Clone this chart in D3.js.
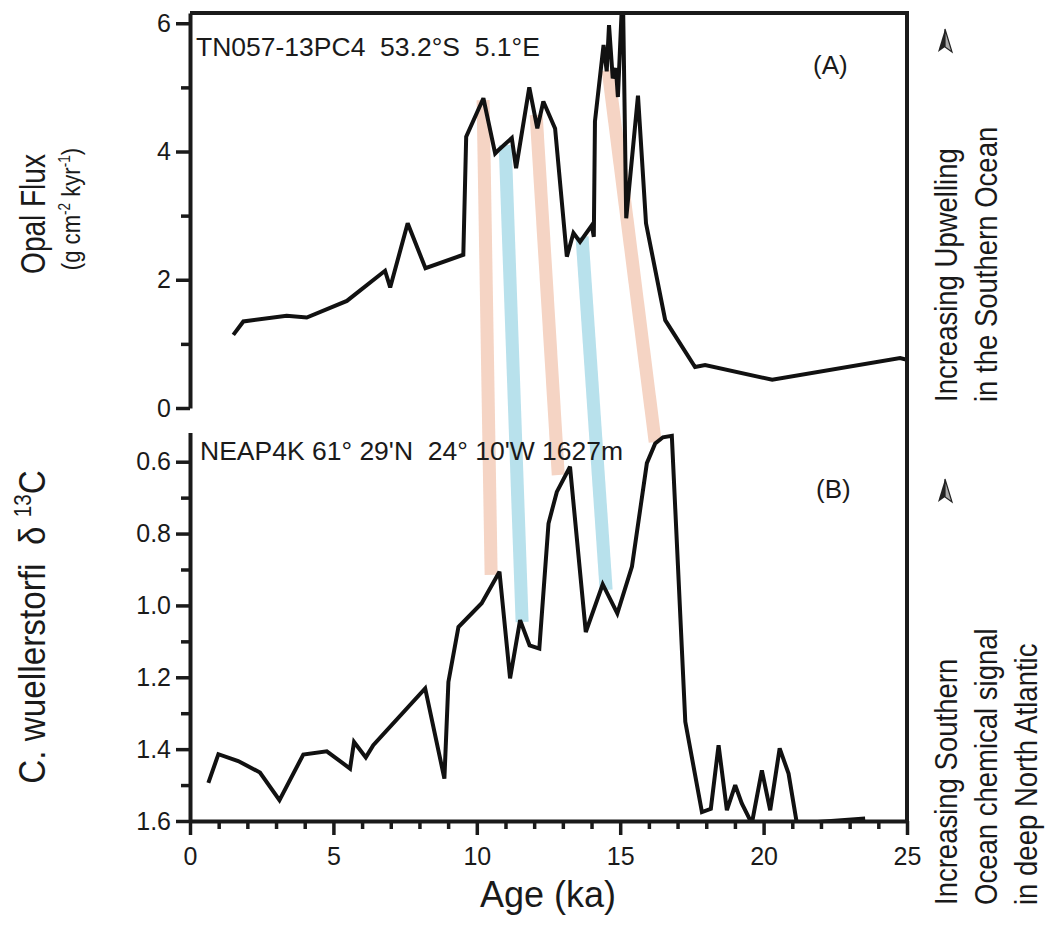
<!DOCTYPE html>
<html><head><meta charset="utf-8">
<script src="https://cdn.jsdelivr.net/npm/d3@7"></script>
<style>
body{margin:0;background:#fff}
text{fill:#1a1a1a}
</style>
</head><body>
<svg id="c" width="1045" height="925"></svg>
<script>
// ---- data ----
const opalAge = [1.51,1.86,3.37,4.07,5.47,6.80,6.98,7.59,8.21,9.53,9.63,10.23,10.64,10.75,11.22,11.37,11.83,12.11,12.32,12.73,13.14,13.37,13.60,14.01,14.08,14.12,14.42,14.53,14.61,14.74,14.85,14.92,15.09,15.21,15.62,15.90,16.57,17.61,17.96,20.30,24.76,25.0];
const opalFlux = [1.14,1.35,1.44,1.41,1.67,2.14,1.88,2.88,2.18,2.39,4.23,4.83,3.97,4.02,4.21,3.74,5.00,4.36,4.78,4.36,2.36,2.73,2.59,2.85,2.67,4.47,5.66,5.25,5.97,5.14,5.30,4.85,6.60,2.96,4.87,2.88,1.37,0.64,0.67,0.44,0.78,0.75];
const d13Age = [0.64,0.99,1.68,2.44,3.12,3.95,4.77,5.58,5.72,6.13,6.39,8.20,8.87,9.01,9.36,10.17,10.79,11.16,11.51,11.84,12.18,12.50,12.79,13.25,13.80,14.39,14.90,15.41,15.93,16.22,16.49,16.80,17.27,17.85,18.16,18.43,18.72,19.01,19.24,19.59,19.94,20.23,20.56,20.87,21.16,23.54];
const d13C = [1.494,1.414,1.433,1.465,1.542,1.415,1.406,1.454,1.38,1.423,1.389,1.231,1.482,1.213,1.06,0.994,0.906,1.203,1.041,1.111,1.12,0.772,0.684,0.614,1.074,0.941,1.022,0.892,0.604,0.549,0.532,0.528,1.324,1.575,1.566,1.389,1.57,1.50,1.551,1.607,1.459,1.57,1.398,1.468,1.607,1.593];
// correlation bands (panel A point -> panel B point)
const bandTopAge = [10.22, 10.99, 12.07, 13.67, 14.58];
const bandTopVal = [4.80, 4.10, 4.57, 2.67, 5.27];
const bandBotAge = [10.50, 11.58, 12.84, 14.51, 16.22];
const bandBotVal = [0.915, 1.046, 0.637, 0.957, 0.545];
const bandKind = ["warm","cool","warm","cool","warm"];
// ticks
const xTicks = [0,5,10,15,20,25];
const xMinorTicks = [1,2,3,4,6,7,8,9,11,12,13,14,16,17,18,19,21,22,23,24];
const opalTicks = [0,2,4,6];
const opalMinorTicks = [1,3,5];
const d13Ticks = [0.6,0.8,1.0,1.2,1.4,1.6];
const d13MinorTicks = [0.7,0.9,1.1,1.3,1.5];

// ---- layout ----
const svg = d3.select("#c");
const L = 190, R = 907;
const x = d3.scaleLinear([0,25],[L,R]);
const yA = d3.scaleLinear([0,6.16],[408,13]);
const yB = d3.scaleLinear([0.519,1.6],[432.6,821]);
const colors = {warm:"#f5d2c1", cool:"#b5e0ec"};
const font = "'Liberation Sans', Arial, Helvetica, sans-serif";

const defs = svg.append("defs");
defs.append("clipPath").attr("id","clipA").append("rect").attr("x",L).attr("y",13).attr("width",R-L).attr("height",408-13);
defs.append("clipPath").attr("id","clipB").append("rect").attr("x",L).attr("y",432.6).attr("width",R-L).attr("height",821-432.6);

// bands
svg.append("g").selectAll("line").data(bandKind).join("line")
  .attr("x1",(d,i)=>x(bandTopAge[i])).attr("y1",(d,i)=>yA(bandTopVal[i]))
  .attr("x2",(d,i)=>x(bandBotAge[i])).attr("y2",(d,i)=>yB(bandBotVal[i]))
  .attr("stroke",d=>colors[d]).attr("stroke-width",13).attr("opacity",0.95);

// lines
const lineA = d3.line().x((d,i)=>x(opalAge[i])).y((d,i)=>yA(opalFlux[i]));
const lineB = d3.line().x((d,i)=>x(d13Age[i])).y((d,i)=>yB(d13C[i]));
svg.append("path").attr("clip-path","url(#clipA)").attr("d",lineA(opalAge))
  .attr("fill","none").attr("stroke","#111").attr("stroke-width",4).attr("stroke-linejoin","miter").attr("stroke-miterlimit",3);
svg.append("path").attr("clip-path","url(#clipB)").attr("d",lineB(d13Age))
  .attr("fill","none").attr("stroke","#111").attr("stroke-width",4).attr("stroke-linejoin","miter").attr("stroke-miterlimit",3);

// frame
svg.append("line").attr("x1",L).attr("x2",R).attr("y1",13).attr("y2",13).attr("stroke","#1a1a1a").attr("stroke-width",4);
svg.append("line").attr("x1",R).attr("x2",R).attr("y1",11).attr("y2",823).attr("stroke","#1a1a1a").attr("stroke-width",4);

function styleAxis(g, fs){
  g.select(".domain").attr("stroke","#1a1a1a").attr("stroke-width",4);
  g.selectAll(".tick line").attr("stroke","#1a1a1a").attr("stroke-width",3.5);
  g.selectAll(".tick text").attr("font-family",font).attr("font-size",fs).attr("fill","#1a1a1a");
}
// axis A
const gA = svg.append("g").attr("transform",`translate(${L},0)`)
  .call(d3.axisLeft(yA).tickValues(opalTicks).tickSize(14).tickSizeOuter(0).tickPadding(5).tickFormat(d3.format("d")));
styleAxis(gA, 25);
const gAm = svg.append("g").attr("transform",`translate(${L},0)`)
  .call(d3.axisLeft(yA).tickValues(opalMinorTicks).tickSize(9).tickSizeOuter(0).tickFormat(""));
styleAxis(gAm, 25); gAm.select(".domain").remove();
// axis B
const gB = svg.append("g").attr("transform",`translate(${L},0)`)
  .call(d3.axisLeft(yB).tickValues(d13Ticks).tickSize(14).tickSizeOuter(0).tickPadding(5).tickFormat(d3.format(".1f")));
styleAxis(gB, 25);
const gBm = svg.append("g").attr("transform",`translate(${L},0)`)
  .call(d3.axisLeft(yB).tickValues(d13MinorTicks).tickSize(9).tickSizeOuter(0).tickFormat(""));
styleAxis(gBm, 25); gBm.select(".domain").remove();
// x axis
const gX = svg.append("g").attr("transform",`translate(0,821)`)
  .call(d3.axisBottom(x).tickValues(xTicks).tickSize(14).tickSizeOuter(0).tickPadding(12).tickFormat(d3.format("d")));
styleAxis(gX, 25);
const gXm = svg.append("g").attr("transform",`translate(0,821)`)
  .call(d3.axisBottom(x).tickValues(xMinorTicks).tickSize(8).tickSizeOuter(0).tickFormat(""));
styleAxis(gXm, 25); gXm.select(".domain").remove();

// panel annotations
svg.append("text").attr("x",196).attr("y",56).attr("font-family",font).attr("font-size",26.5)
  .style("white-space","pre").text("TN057-13PC4  53.2°S  5.1°E");
svg.append("text").attr("x",813).attr("y",74).attr("font-family",font).attr("font-size",26).text("(A)");
svg.append("text").attr("x",200).attr("y",460).attr("font-family",font).attr("font-size",26.5)
  .style("white-space","pre").text("NEAP4K 61° 29'N  24° 10'W 1627m");
svg.append("text").attr("x",816).attr("y",498).attr("font-family",font).attr("font-size",26).text("(B)");

// axis titles (condensed via horizontal scaling along text direction)
svg.append("text").attr("transform","translate(45,214) rotate(-90) scale(0.8,1)").attr("text-anchor","middle")
  .attr("font-family",font).attr("font-size",35).text("Opal Flux");
const t2 = svg.append("text").attr("transform","translate(80,209) rotate(-90) scale(0.85,1)").attr("text-anchor","middle")
  .attr("font-family",font).attr("font-size",26);
t2.append("tspan").text("(g cm");
t2.append("tspan").attr("dy",-10).attr("font-size",16).text("-2");
t2.append("tspan").attr("dy",10).text(" kyr");
t2.append("tspan").attr("dy",-10).attr("font-size",16).text("-1");
t2.append("tspan").attr("dy",10).text(")");
const t3 = svg.append("text").attr("transform","translate(45,627) rotate(-90) scale(0.9,1)").attr("text-anchor","middle")
  .attr("font-family",font).attr("font-size",37).style("white-space","pre");
t3.append("tspan").text("C. wuellerstorfi  δ ");
t3.append("tspan").attr("dy",-14).attr("font-size",23).text("13");
t3.append("tspan").attr("dy",14).text("C");
svg.append("text").attr("x",548).attr("y",907).attr("text-anchor","middle")
  .attr("font-family",font).attr("font-size",36).text("Age (ka)");

// right side annotations
function arrowUp(cx, cy){
  const g = svg.append("g").attr("transform",`translate(${cx},${cy})`);
  g.append("path").attr("d","M0,-13 L-7,10 L0,5 Z").attr("fill","#222");
  g.append("path").attr("d","M0,-13 L7,10 L0,5 Z").attr("fill","#aaa").attr("stroke","#222").attr("stroke-width",1.2);
}
function rightText(bx, by, str){
  svg.append("text").attr("transform",`translate(${bx},${by}) rotate(-90) scale(0.86,1)`)
    .attr("font-family",font).attr("font-size",32).text(str);
}
rightText(957, 402, "Increasing Upwelling");
rightText(997, 402, "in the Southern Ocean");
arrowUp(945, 42);
rightText(957, 905, "Increasing Southern");
rightText(997, 905, "Ocean chemical signal");
rightText(1037, 905, "in deep North Atlantic");
arrowUp(945, 492);
</script>
</body></html>
